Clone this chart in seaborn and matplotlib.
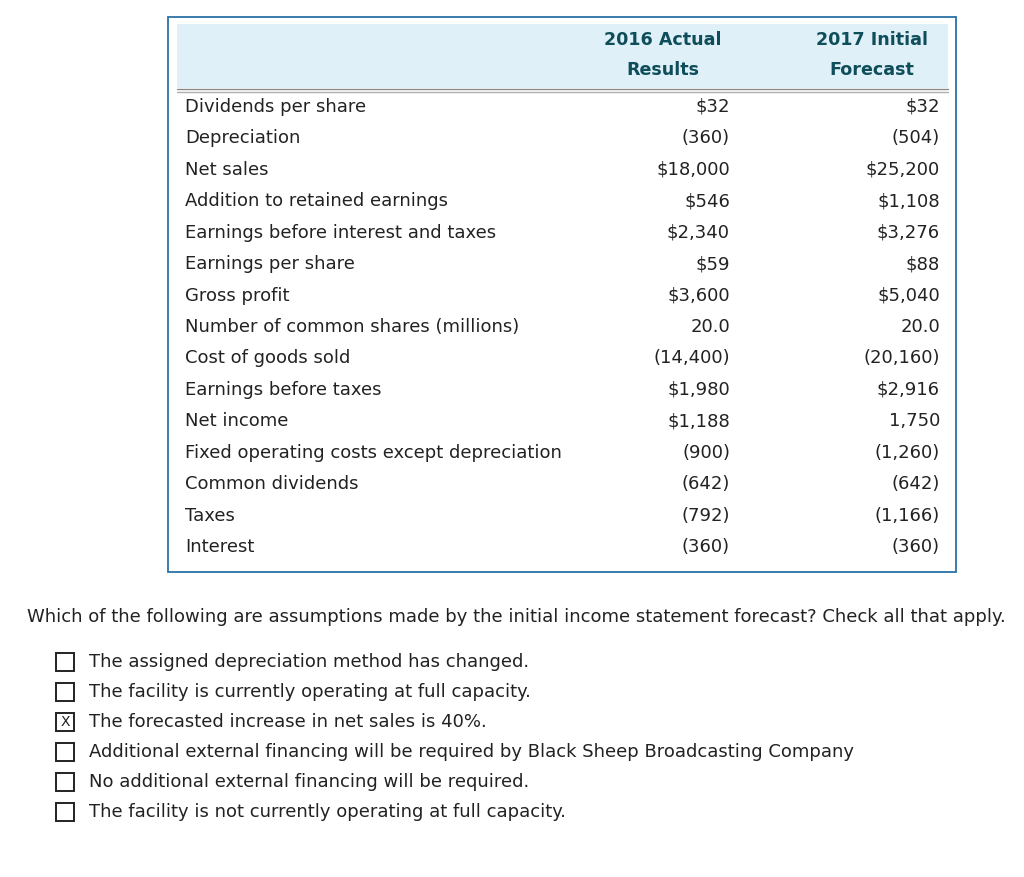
import matplotlib
matplotlib.use("Agg")
from matplotlib import pyplot as plt
from matplotlib.patches import Rectangle
import seaborn as sns

sns.set_theme(style="white")
plt.rcParams['font.family'] = ['DejaVu Sans']

# table data
row_labels = ["Dividends per share", "Depreciation", "Net sales",
              "Addition to retained earnings", "Earnings before interest and taxes",
              "Earnings per share", "Gross profit", "Number of common shares (millions)",
              "Cost of goods sold", "Earnings before taxes", "Net income",
              "Fixed operating costs except depreciation", "Common dividends",
              "Taxes", "Interest"]
col_2016 = ["$32", "(360)", "$18,000", "$546", "$2,340", "$59", "$3,600", "20.0",
            "(14,400)", "$1,980", "$1,188", "(900)", "(642)", "(792)", "(360)"]
col_2017 = ["$32", "(504)", "$25,200", "$1,108", "$3,276", "$88", "$5,040", "20.0",
            "(20,160)", "$2,916", "1,750", "(1,260)", "(642)", "(1,166)", "(360)"]
headers = [("2016 Actual", "Results"), ("2017 Initial", "Forecast")]

question = "Which of the following are assumptions made by the initial income statement forecast? Check all that apply."
options = ["The assigned depreciation method has changed.",
           "The facility is currently operating at full capacity.",
           "The forecasted increase in net sales is 40%.",
           "Additional external financing will be required by Black Sheep Broadcasting Company",
           "No additional external financing will be required.",
           "The facility is not currently operating at full capacity."]
checked = [False, False, True, False, False, False]

W, H = 1024, 877
fig = plt.figure(figsize=(W / 100, H / 100), dpi=100)
ax = fig.add_axes([0, 0, 1, 1])
ax.set_xlim(0, W)
ax.set_ylim(H, 0)
ax.axis("off")

fs = 12.95
txt = "#222222"
head_col = "#0e4d5a"

# table frame and header band
ax.add_patch(Rectangle((168, 17), 788, 555, fill=False, ec="#2a72a8", lw=1.3))
ax.add_patch(Rectangle((177, 24), 771, 64, fc="#dff0f8", ec="none"))
ax.plot([177, 948], [88.5, 88.5], color="#8a8a8a", lw=1)
ax.plot([177, 948], [91.5, 91.5], color="#b0b0b0", lw=1)

col_centers = [663, 872]
for cx, (h1, h2) in zip(col_centers, headers):
    ax.text(cx, 40, h1, ha="center", va="center", fontsize=12.6, fontweight="bold", color=head_col)
    ax.text(cx, 70, h2, ha="center", va="center", fontsize=12.6, fontweight="bold", color=head_col)

y0, step = 107, 31.43
for i, (lab, a, b) in enumerate(zip(row_labels, col_2016, col_2017)):
    y = y0 + i * step
    ax.text(185, y, lab, ha="left", va="center", fontsize=fs, color=txt)
    ax.text(730, y, a, ha="right", va="center", fontsize=fs, color=txt)
    ax.text(940, y, b, ha="right", va="center", fontsize=fs, color=txt)

ax.text(27, 617, question, ha="left", va="center", fontsize=fs, color=txt)

for i, (opt, c) in enumerate(zip(options, checked)):
    y = 662 + i * 30
    ax.add_patch(Rectangle((56, y - 9), 18, 18, fill=False, ec="#222222", lw=1.4))
    if c:
        ax.text(65, y, "X", ha="center", va="center", fontsize=10, color=txt)
    ax.text(89, y, opt, ha="left", va="center", fontsize=fs, color=txt)

fig.savefig("out.png", dpi=100, facecolor="white")
